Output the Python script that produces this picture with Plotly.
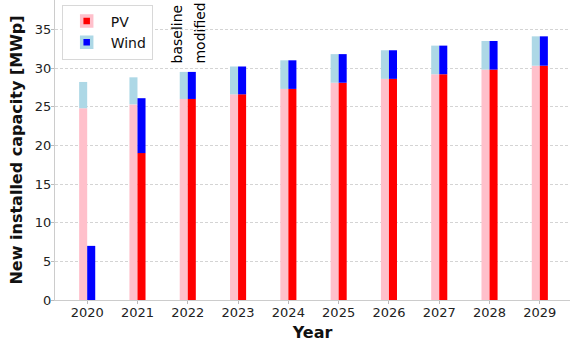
import plotly.graph_objects as go

years = [2020, 2021, 2022, 2023, 2024, 2025, 2026, 2027, 2028, 2029]
pv_baseline = [24.8, 25.3, 26.0, 26.6, 27.3, 28.1, 28.6, 29.2, 29.8, 30.3]
wind_baseline = [3.4, 3.5, 3.5, 3.6, 3.7, 3.7, 3.7, 3.7, 3.7, 3.8]
pv_modified = [0.0, 19.0, 26.0, 26.6, 27.3, 28.1, 28.6, 29.2, 29.8, 30.3]
wind_modified = [7.0, 7.1, 3.5, 3.6, 3.7, 3.7, 3.7, 3.7, 3.7, 3.8]

BAR_W = 0.16
FONT = "DejaVu Sans"

fig = go.Figure()

def add_bars(pv, wind, pv_color, wind_color, offset):
    fig.add_trace(go.Bar(x=years, y=pv, width=BAR_W, offset=offset,
                         marker=dict(color=pv_color, line=dict(width=0)),
                         showlegend=False))
    fig.add_trace(go.Bar(x=years, y=wind, base=pv, width=BAR_W, offset=offset,
                         marker=dict(color=wind_color, line=dict(width=0)),
                         showlegend=False))

add_bars(pv_baseline, wind_baseline, "pink", "lightblue", -BAR_W)
add_bars(pv_modified, wind_modified, "red", "blue", 0)

# legend entries: dark square inside a light frame
for name, inner, outer in [("PV", "red", "pink"), ("Wind", "blue", "lightblue")]:
    fig.add_trace(go.Scatter(x=[None], y=[None], mode="markers", name=name,
                             marker=dict(symbol="square", size=10, color=inner,
                                         line=dict(color=outer, width=3.5))))

for label, xpos in [("baseline", 2022 - BAR_W / 2 - 0.13), ("modified", 2022 + BAR_W / 2 + 0.17)]:
    fig.add_annotation(x=xpos, y=30.3, text=label, textangle=-90,
                       showarrow=False, xanchor="center", yanchor="bottom",
                       font=dict(family=FONT, size=14, color="black"))

fig.update_layout(
    width=570, height=343,
    margin=dict(l=55, r=0, t=0, b=43),
    plot_bgcolor="white", paper_bgcolor="white",
    barmode="overlay",
    font=dict(family=FONT, size=13, color="#222"),
    legend=dict(x=0.013, y=0.985, xanchor="left", yanchor="top",
                bgcolor="white", bordercolor="#d8d8d8", borderwidth=1,
                font=dict(family=FONT, size=14, color="#111"),
                itemwidth=38, tracegroupgap=0),
    xaxis=dict(range=[2019.36, 2029.6], tickmode="array", tickvals=years,
               ticks="outside", ticklen=3, tickcolor="#bbb",
               ticklabelstandoff=-3,
               showline=True, linecolor="#ccc", linewidth=1, mirror=False,
               showgrid=False, zeroline=False,
               title=dict(text="<b>Year</b>", font=dict(family=FONT, size=16, color="#111"), standoff=8)),
    yaxis=dict(range=[0, 38.8], tickvals=[0, 5, 10, 15, 20, 25, 30, 35],
               ticks="outside", ticklen=3, tickcolor="#bbb",
               ticklabelstandoff=-3,
               showline=True, linecolor="#ccc", linewidth=1,
               showgrid=True, gridcolor="#d4d4d4", griddash="3px,2px", gridwidth=0.8,
               zeroline=False,
               title=dict(text="<b>New installed capacity [MWp]</b>", font=dict(family=FONT, size=16, color="#111"), standoff=8)),
)

fig.write_html("out.html")
